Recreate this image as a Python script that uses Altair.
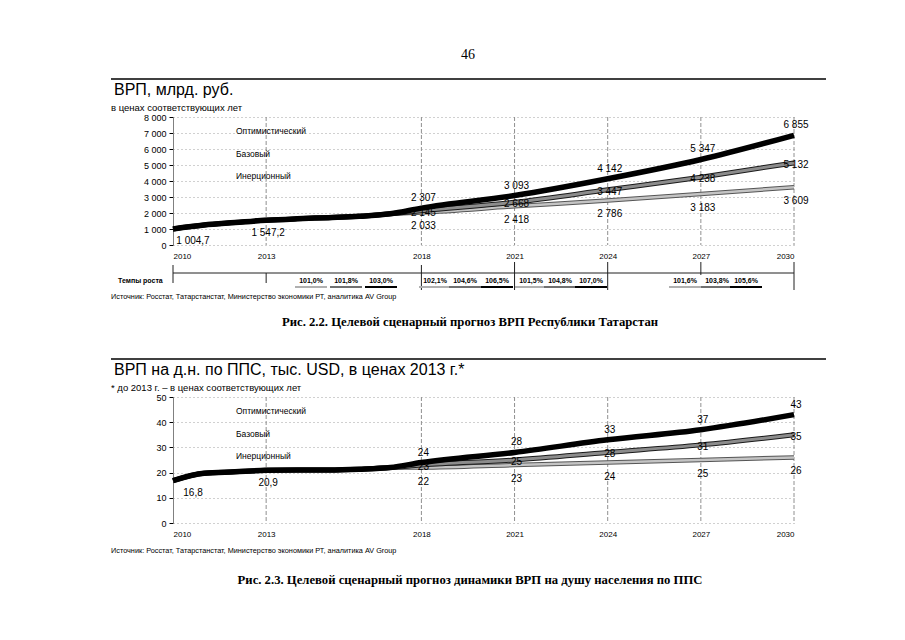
import altair as alt
import pandas as pd

# ---------------- data ----------------
hist_years = [2010, 2011, 2012, 2013, 2014, 2015, 2016, 2017]
fc_years = [2018, 2021, 2024, 2027, 2030]

grp_hist = [1004.7, 1250, 1400, 1547.2, 1640, 1710, 1790, 1950]
grp_opt = [2307, 3093, 4142, 5347, 6855]
grp_base = [2145, 2668, 3447, 4238, 5132]
grp_inert = [2033, 2418, 2786, 3183, 3609]
grp_hist_labeled = {2010: "1 004,7", 2013: "1 547,2"}

pc_hist = [16.8, 19.7, 20.3, 20.9, 21.0, 21.0, 21.3, 22.0]
pc_opt = [24, 28, 33, 37, 43]
pc_base = [23, 25, 28, 31, 35]
pc_inert = [22, 23, 24, 25, 26]
pc_hist_labeled = {2010: "16,8", 2013: "20,9"}

axis_years = [2010, 2013, 2018, 2021, 2024, 2027, 2030]
grid_years = [2013, 2018, 2021, 2024, 2027, 2030]

scen_names = ["Оптимистический", "Базовый", "Инерционный"]

growth_labels = [
    ["101,0%", "101,8%", "103,0%"],
    ["102,1%", "104,6%", "106,5%"],
    ["101,5%", "104,8%", "107,0%"],
    ["101,6%", "103,8%", "105,6%"],
]
# layout (pixel centres of the growth labels inside panel 1)
growth_px = [[138, 173, 208], [262, 292, 324], [358, 387, 418], [512, 544, 573]]
underline_colors = ["#b0b0b0", "#707070", "#000000"]

source_text = "Источник: Росстат, Татарстанстат, Министерство экономики РТ, аналитика AV Group"

W = 621
FONT = "Liberation Sans"
SERIF = "Liberation Serif"


def fmt(v, thousands=True):
    if thousands:
        return f"{int(round(v)):,}".replace(",", " ")
    return str(int(round(v)))


one = pd.DataFrame({"k": [0]})


def txt(s, x, y, size=9, align="left", font=FONT, weight="normal", color="black"):
    return alt.Chart(pd.DataFrame({"t": [s]})).mark_text(
        align=align, baseline="middle", fontSize=size, font=font,
        fontWeight=weight, color=color
    ).encode(x=alt.value(x), y=alt.value(y), text="t:N")


def hrule(x1, x2, y, color="black", w=1.0):
    return alt.Chart(one).mark_rule(color=color, strokeWidth=w).encode(
        x=alt.value(x1), x2=alt.value(x2), y=alt.value(y))


def panel(H, hist, opt, base, inert, ymax, ystep, hist_labels, thousands,
          title, subtitle, caption, extra_top=None, growth=False):
    xenc = alt.X("year:Q", scale=alt.Scale(domain=[2010, 2030], nice=False, zero=False),
                 axis=alt.Axis(values=axis_years, format="d", title=None, domain=False,
                               ticks=False, grid=False, labelFontSize=8, labelPadding=7,
                               labelFont=FONT, labelColor="black"))
    yenc = alt.Y("value:Q", scale=alt.Scale(domain=[0, ymax], nice=False),
                 axis=alt.Axis(values=list(range(0, ymax + 1, ystep)), title=None,
                               labelExpr="replace(format(datum.value, ',d'), ',', ' ')",
                               labelFontSize=9, labelFont=FONT, labelColor="black",
                               tickSize=4, tickColor="black", labelPadding=3,
                               domainColor="#808080", grid=True, gridColor="#a0a0a0",
                               gridDash=[1, 3], gridWidth=1))

    rows = []
    for name, vals in zip(scen_names, [opt, base, inert]):
        for yr, v in zip(hist_years, hist):
            rows.append({"scen": name, "year": yr, "value": v})
        for yr, v in zip(fc_years, vals):
            rows.append({"scen": name, "year": yr, "value": v})
    df = pd.DataFrame(rows)

    def line(name, color, w):
        return alt.Chart(df).transform_filter(alt.datum.scen == name).mark_line(
            color=color, strokeWidth=w, interpolate="monotone").encode(x=xenc, y=yenc)

    grid = alt.Chart(pd.DataFrame({"year": grid_years})).mark_rule(
        color="#909090", strokeWidth=1, strokeDash=[4, 2]).encode(
        x=xenc, y=alt.value(0), y2=alt.value(H))

    layers = [grid,
              line(scen_names[2], "#555555", 4.5), line(scen_names[2], "#c4c4c4", 2.5),
              line(scen_names[1], "#1a1a1a", 5), line(scen_names[1], "#8c8c8c", 3),
              line(scen_names[0], "#000000", 5.5)]

    # value labels
    lab_rows = []
    for name, vals in zip(scen_names, [opt, base, inert]):
        for yr, v in zip(fc_years, vals):
            lab_rows.append({"scen": name, "year": yr, "value": v, "lab": fmt(v, thousands)})
    ldf = pd.DataFrame(lab_rows)
    for name, dy in zip(scen_names, [-10, 2, 14]):
        layers.append(alt.Chart(ldf).transform_filter(alt.datum.scen == name).mark_text(
            fontSize=10, font=FONT, dy=dy, dx=2, color="black").encode(x=xenc, y=yenc, text="lab:N"))
    hdf = pd.DataFrame({"year": list(hist_labels.keys()),
                        "value": [hist[hist_years.index(y)] for y in hist_labels],
                        "lab": list(hist_labels.values())})
    layers.append(alt.Chart(hdf).transform_filter(alt.datum.year == 2010).mark_text(
        fontSize=10, font=FONT, dy=12, dx=20, color="black").encode(x=xenc, y=yenc, text="lab:N"))
    layers.append(alt.Chart(hdf).transform_filter(alt.datum.year == 2013).mark_text(
        fontSize=10, font=FONT, dy=13, dx=2, color="black").encode(x=xenc, y=yenc, text="lab:N"))

    # scenario names
    for i, name in enumerate(scen_names):
        layers.append(txt(name, 63, 14 + 22.5 * i, size=8.5))

    # header
    layers.append(hrule(-62, 653, -38, "black", 1.6))
    layers.append(txt(title, -59, -27, size=16))
    layers.append(txt(subtitle, -62, -9.5, size=9.5))

    if extra_top is not None:
        layers.append(extra_top)

    if growth:
        gy = H + 28
        layers.append(txt("Темпы роста", -55, gy + 8, size=7, weight="bold"))
        layers.append(hrule(0, W, gy, "#202020", 1))
        vdf = pd.DataFrame({"year": [2010, 2013, 2018, 2021, 2024, 2027, 2030],
                            "top": [gy - 8, gy, gy - 8, gy - 11, gy - 11, gy - 11, gy - 11],
                            "bot": [gy + 10, gy + 10, gy + 17, gy + 17, gy + 17, gy + 2, gy + 17]})
        layers.append(alt.Chart(vdf).mark_rule(color="#202020", strokeWidth=1).encode(
            x=xenc, y=alt.Y("top:Q", scale=None), y2="bot:Q"))
        for grp, pxs in zip(growth_labels, growth_px):
            for lab, px, col in zip(grp, pxs, underline_colors):
                layers.append(txt(lab, px, gy + 8, size=7, align="center", weight="bold"))
                layers.append(hrule(px - 16, px + 16, gy + 14, col, 2))
        src_y = gy + 24
        cap_y = gy + 49
    else:
        src_y = H + 28
        cap_y = H + 57

    layers.append(txt(source_text, -62, src_y, size=7.3))
    layers.append(txt(caption, 297, cap_y, size=12.7, align="center", font=SERIF, weight="bold"))

    return alt.layer(*layers).properties(width=W, height=H)


top1 = txt("46", 295, -62, size=14, align="center", font=SERIF)

c1 = panel(128, grp_hist, grp_opt, grp_base, grp_inert, 8000, 1000, grp_hist_labeled, True,
           "ВРП, млрд. руб.", "в ценах соответствующих лет",
           "Рис. 2.2. Целевой сценарный прогноз ВРП Республики Татарстан",
           extra_top=top1, growth=True)
c2 = panel(126, pc_hist, pc_opt, pc_base, pc_inert, 50, 10, pc_hist_labeled, False,
           "ВРП на д.н. по ППС, тыс. USD, в ценах 2013 г.*",
           "* до 2013 г. – в ценах соответствующих лет",
           "Рис. 2.3. Целевой сценарный прогноз динамики ВРП на душу населения по ППС")

chart = alt.vconcat(c1, c2, spacing=29).properties(
    padding={"left": 102, "top": 40, "right": 10, "bottom": 10},
    background="white"
).configure_view(stroke=None)

chart.save("out.html", embed_options={"renderer": "svg", "actions": False})
